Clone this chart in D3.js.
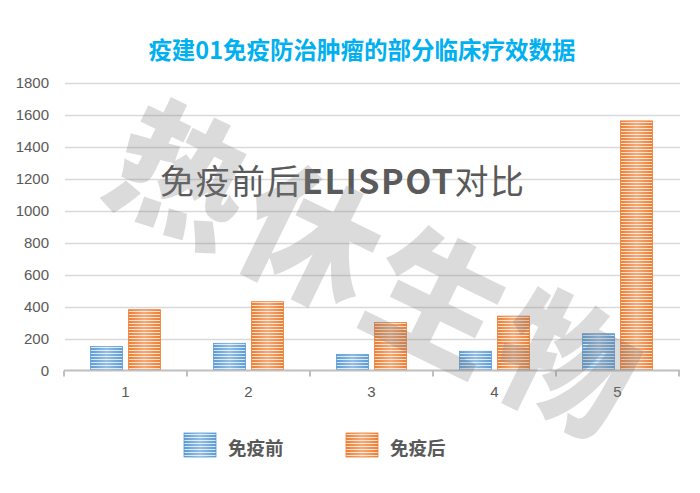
<!DOCTYPE html>
<html><head><meta charset="utf-8">
<script src="https://cdn.jsdelivr.net/npm/d3@7/dist/d3.min.js"></script>
<style>html,body{margin:0;padding:0;background:#fff;}svg{display:block;}</style>
</head><body>
<svg id="chart" width="700" height="493"></svg>
<script>
const categories = ["1","2","3","4","5"];
const seriesNames = ["免疫前","免疫后"];
const before = [150,170,100,120,230];
const after = [380,430,300,340,1560];
const yTicks = [0,200,400,600,800,1000,1200,1400,1600,1800];
const titleText = "疫建01免疫防治肿瘤的部分临床疗效数据";
const subtitleParts = ["免疫前后","ELISPOT","对比"];
const watermarkChars = ["热","休","生","物"];

(function(){
const svg = d3.select("#chart");
const W = 700, H = 493;
svg.append("rect").attr("width",W).attr("height",H).attr("fill","#fff");

const pLeft = 64, pRight = 679, pTop = 82.5, pBottom = 370.5;
const x0 = d3.scaleBand().domain(categories).range([pLeft,pRight]);
const bw = x0.bandwidth();
const x1 = d3.scaleBand().domain(seriesNames).range([(bw-70)/2,(bw+70)/2]).paddingInner(2-70/38);
const y = d3.scaleLinear().domain([0,1800]).range([pBottom,pTop]);

const colors = {"免疫前":"#5b9bd5","免疫后":"#ed7d31"};
const defs = svg.append("defs");
function makePattern(id,color){
  const p = defs.append("pattern").attr("id",id).attr("patternUnits","userSpaceOnUse")
    .attr("width",8).attr("height",3);
  p.append("rect").attr("width",8).attr("height",3).attr("fill",color);
  p.append("rect").attr("y",2).attr("width",8).attr("height",1).attr("fill","#fff").attr("opacity",0.75);
}
makePattern("pb",colors["免疫前"]);
makePattern("po",colors["免疫后"]);
const g = defs.append("linearGradient").attr("id","shine").attr("x1","0").attr("x2","1").attr("y1","0").attr("y2","0");
g.append("stop").attr("offset","0").attr("stop-color","#fff").attr("stop-opacity",0);
g.append("stop").attr("offset","0.5").attr("stop-color","#fff").attr("stop-opacity",0.35);
g.append("stop").attr("offset","1").attr("stop-color","#fff").attr("stop-opacity",0);

// title
svg.append("text").attr("x",362).attr("y",59).attr("text-anchor","middle")
  .attr("font-family","'Noto Sans CJK SC'").attr("font-weight","bold").attr("font-size",23.5)
  .attr("fill","#00b0f0").text(titleText);

// gridlines
svg.append("g").selectAll("line").data(yTicks.filter(d=>d>0)).join("line")
  .attr("x1",pLeft+1).attr("x2",pRight+1).attr("y1",d=>Math.round(y(d))+0.5).attr("y2",d=>Math.round(y(d))+0.5)
  .attr("stroke","#d9d9d9").attr("stroke-width",1.3);

// y axis labels
const yAxis = d3.axisLeft(y).tickValues(yTicks).tickFormat(d3.format("d")).tickSize(0).tickPadding(0);
const ya = svg.append("g").attr("transform",`translate(49,0)`).call(yAxis);
ya.select(".domain").remove();
ya.selectAll("text").attr("font-family","'Liberation Sans'").attr("font-size",15).attr("fill","#595959");

// bars
const data = categories.map((c,i)=>({c, vals:[{s:"免疫前",v:before[i],p:"pb"},{s:"免疫后",v:after[i],p:"po"}]}));
const groups = svg.append("g").selectAll("g").data(data).join("g")
  .attr("transform",d=>`translate(${x0(d.c)},0)`);
groups.selectAll("rect.bar").data(d=>d.vals).join("rect").attr("class","bar")
  .attr("x",d=>x1(d.s)).attr("width",x1.bandwidth())
  .attr("y",d=>y(d.v)).attr("height",d=>pBottom-y(d.v))
  .attr("fill",d=>`url(#${d.p})`).attr("stroke",d=>colors[d.s]).attr("stroke-width",0.8);
groups.selectAll("rect.shine").data(d=>d.vals).join("rect").attr("class","shine")
  .attr("x",d=>x1(d.s)).attr("width",x1.bandwidth())
  .attr("y",d=>y(d.v)).attr("height",d=>pBottom-y(d.v))
  .attr("fill","url(#shine)");

// x axis
const xAxis = d3.axisBottom(x0).tickSize(0).tickPadding(16);
const xa = svg.append("g").attr("transform",`translate(0,${pBottom})`).call(xAxis);
xa.select(".domain").attr("stroke","#bfbfbf").attr("stroke-width",2).attr("d",`M${pLeft},0H${pRight+1}`);
xa.selectAll("text").attr("font-family","'Liberation Sans'").attr("font-size",15).attr("fill","#595959");
svg.append("g").selectAll("line").data(categories.concat(["end"])).join("line")
  .attr("x1",(d,i)=>pLeft+i*bw).attr("x2",(d,i)=>pLeft+i*bw)
  .attr("y1",pBottom).attr("y2",pBottom+6).attr("stroke","#bfbfbf").attr("stroke-width",2);

// subtitle
const st = svg.append("text").attr("x",160).attr("y",194)
  .attr("font-family","'Noto Sans CJK SC'").attr("font-size",34).attr("fill","#5a5a5a");
st.append("tspan").attr("letter-spacing",1.5).text(subtitleParts[0]);
st.append("tspan").attr("font-weight","bold").attr("letter-spacing",1.5).text(subtitleParts[1]);
st.append("tspan").attr("letter-spacing",1.5).text(subtitleParts[2]);

// watermark
const wm = svg.append("g").attr("font-family","'Noto Sans CJK SC'").attr("font-weight",900)
  .attr("font-size",136).attr("fill","#7f7f7f").attr("fill-opacity",0.28);
watermarkChars.forEach((ch,i)=>{
  const cx = 186 + i*128, cy = 167 + i*63;
  wm.append("text").attr("transform",`translate(${cx},${cy}) rotate(26)`)
    .attr("text-anchor","middle").attr("dominant-baseline","central").text(ch);
});

// legend
const lg = svg.append("g");
const legendX = [184,346];
seriesNames.forEach((s,i)=>{
  lg.append("rect").attr("x",legendX[i]).attr("y",433).attr("width",32).attr("height",24)
    .attr("fill",`url(#${i===0?"pb":"po"})`).attr("stroke",colors[s]).attr("stroke-width",0.8);
  lg.append("rect").attr("x",legendX[i]).attr("y",433).attr("width",32).attr("height",24).attr("fill","url(#shine)");
  lg.append("text").attr("x",legendX[i]+44).attr("y",447).attr("dominant-baseline","central")
    .attr("font-family","'Noto Sans CJK SC'").attr("font-weight","bold").attr("font-size",18.5)
    .attr("fill","#595959").text(s);
});
})();
</script>
</body></html>
